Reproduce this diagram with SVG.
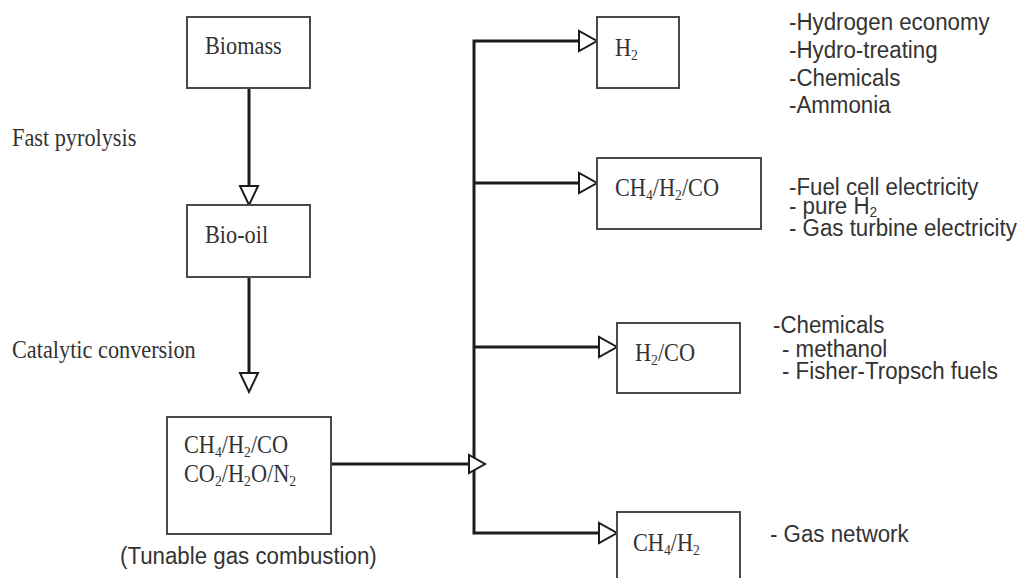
<svg xmlns="http://www.w3.org/2000/svg" width="1024" height="578" viewBox="0 0 1024 578">
<style>
.box{fill:#fff;stroke:#4a4a4a;stroke-width:2}
.ln{fill:none;stroke:#1c1c1c;stroke-width:3}
.arr{fill:#fff;stroke:#1c1c1c;stroke-width:2;stroke-linejoin:miter}
.serif{font-family:"Liberation Serif","Times New Roman",serif;font-size:24.5px;fill:#333}
.sans{font-family:"Liberation Sans",Arial,sans-serif;font-size:24.5px;fill:#333}
.sub{font-size:15px}
</style>
<rect width="1024" height="578" fill="#fff"/>
<g id="connectors">
<line class="ln" x1="249" y1="88" x2="249" y2="186"/>
<polygon class="arr" points="240,186 258,186 249,205"/>
<line class="ln" x1="249" y1="277" x2="249" y2="373"/>
<polygon class="arr" points="240,373 258,373 249,392"/>
<line class="ln" x1="331" y1="464" x2="469" y2="464"/>
<polyline class="ln" points="580,41 474,41 474,533 599,533"/>
<line class="ln" x1="474" y1="183" x2="580" y2="183"/>
<line class="ln" x1="474" y1="347" x2="600" y2="347"/>
<polygon class="arr" points="469,455 469,473 485,464"/>
<polygon class="arr" points="579,31 579,51 597,41"/>
<polygon class="arr" points="579,173 579,193 597,183"/>
<polygon class="arr" points="599,337 599,357 617,347"/>
<polygon class="arr" points="599,523 599,543 617,533"/>
</g>
<g id="biomass">
<rect class="box" x="187" y="17" width="123" height="71"/>
<text class="serif" transform="translate(205 54) scale(0.91 1)">Biomass</text>
</g>
<g id="biooil">
<rect class="box" x="187" y="205" width="123" height="72"/>
<text class="serif" transform="translate(205 243) scale(0.91 1)">Bio-oil</text>
</g>
<g id="label-fast">
<text class="serif" transform="translate(12 146) scale(0.91 1)">Fast pyrolysis</text>
</g>
<g id="label-catalytic">
<text class="serif" transform="translate(12 358) scale(0.91 1)">Catalytic conversion</text>
</g>
<g id="gasmix">
<rect class="box" x="167" y="417" width="164" height="117"/>
<text class="serif" transform="translate(184 453) scale(0.91 1)">CH<tspan class="sub" dy="4">4</tspan><tspan dy="-4">/H</tspan><tspan class="sub" dy="4">2</tspan><tspan dy="-4">/CO</tspan></text>
<text class="serif" transform="translate(184 482) scale(0.91 1)">CO<tspan class="sub" dy="4">2</tspan><tspan dy="-4">/H</tspan><tspan class="sub" dy="4">2</tspan><tspan dy="-4">O/N</tspan><tspan class="sub" dy="4">2</tspan></text>
<text class="sans" transform="translate(120 564) scale(0.91 1)">(Tunable gas combustion)</text>
</g>
<g id="h2">
<rect class="box" x="597" y="17" width="82" height="71"/>
<text class="serif" transform="translate(615 56) scale(0.91 1)">H<tspan class="sub" dy="4">2</tspan></text>
<text class="sans" transform="translate(789 30) scale(0.91 1)">-Hydrogen economy</text>
<text class="sans" transform="translate(789 58) scale(0.91 1)">-Hydro-treating</text>
<text class="sans" transform="translate(789 86) scale(0.91 1)">-Chemicals</text>
<text class="sans" transform="translate(789 113) scale(0.91 1)">-Ammonia</text>
</g>
<g id="ch4h2co">
<rect class="box" x="597" y="158" width="164" height="71"/>
<text class="serif" transform="translate(615 196) scale(0.91 1)">CH<tspan class="sub" dy="4">4</tspan><tspan dy="-4">/H</tspan><tspan class="sub" dy="4">2</tspan><tspan dy="-4">/CO</tspan></text>
<text class="sans" transform="translate(789 195) scale(0.91 1)">-Fuel cell electricity</text>
<text class="sans" transform="translate(789 214) scale(0.91 1)">- pure H<tspan class="sub" dy="3">2</tspan></text>
<text class="sans" transform="translate(789 236) scale(0.91 1)">- Gas turbine electricity</text>
</g>
<g id="h2co">
<rect class="box" x="617" y="323" width="123" height="70"/>
<text class="serif" transform="translate(635 361) scale(0.91 1)">H<tspan class="sub" dy="4">2</tspan><tspan dy="-4">/CO</tspan></text>
<text class="sans" transform="translate(773 333) scale(0.91 1)">-Chemicals</text>
<text class="sans" transform="translate(782 357) scale(0.91 1)">- methanol</text>
<text class="sans" transform="translate(782 379) scale(0.91 1)">- Fisher-Tropsch fuels</text>
</g>
<g id="ch4h2">
<rect class="box" x="617" y="512" width="123" height="80"/>
<text class="serif" transform="translate(633 551) scale(0.91 1)">CH<tspan class="sub" dy="4">4</tspan><tspan dy="-4">/H</tspan><tspan class="sub" dy="4">2</tspan></text>
<text class="sans" transform="translate(770 542) scale(0.91 1)">- Gas network</text>
</g>
</svg>
